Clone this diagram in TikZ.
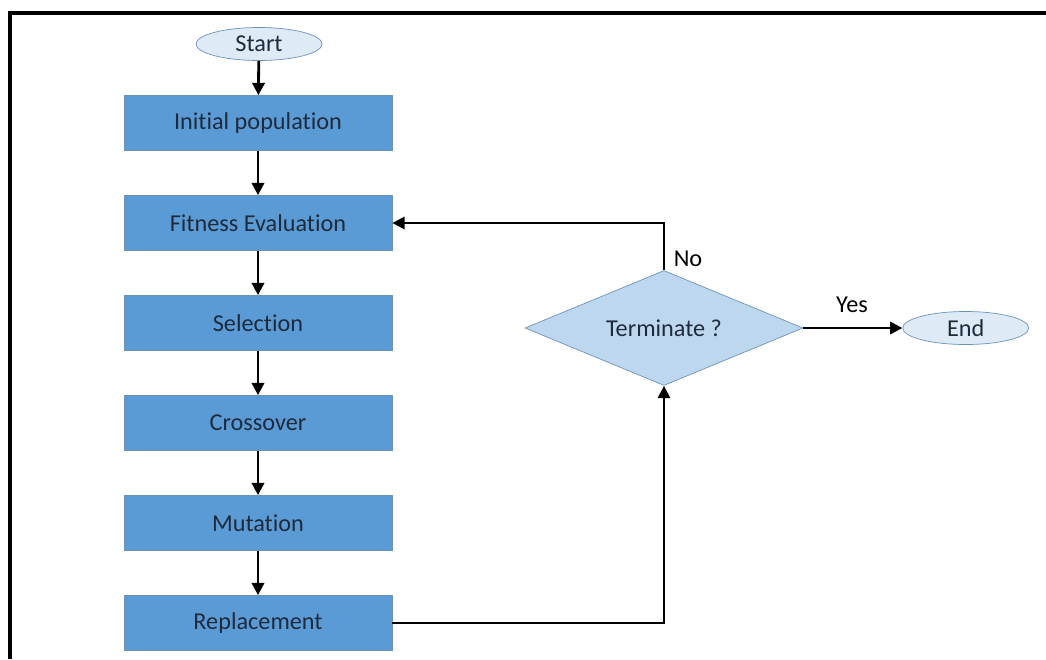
\documentclass[tikz,border=0pt]{standalone}
\usepackage{fontspec}
\setmainfont{Carlito}[Ligatures=NoCommon]
\usetikzlibrary{arrows.meta, positioning, shapes.geometric}
\definecolor{boxblue}{HTML}{5B9BD5}
\definecolor{edgeblue}{HTML}{6E93B8}
\definecolor{paleblue}{HTML}{DEEBF7}
\definecolor{midblue}{HTML}{BDD7EE}
\definecolor{inkdark}{HTML}{1E2B3C}
\begin{document}
\begin{tikzpicture}[
  node distance=2.0cm,
  font=\fontsize{13.8}{16}\selectfont,
  block/.style={draw=edgeblue, fill=boxblue, text=inkdark, rectangle, minimum width=5.36cm, minimum height=1.1cm},
  term/.style={draw=edgeblue, fill=paleblue, text=inkdark, ellipse, inner sep=0pt, minimum width=2.52cm, minimum height=0.66cm},
  decision/.style={draw=edgeblue, fill=midblue, text=inkdark, diamond, aspect=2.4, inner sep=0pt, minimum width=5.56cm, minimum height=2.3cm},
  arr/.style={-{Triangle[length=7pt, width=7pt]}, line width=1.6pt},
  loop/.style={-{Triangle[length=7pt, width=7pt]}, line width=1.3pt}
]
\useasboundingbox (0,0) rectangle (20.92,-13.18);
% frame
\draw[line width=1.8pt] (0.2,-13.18) -- (0.2,-0.26) -- (20.92,-0.26);

\node[term] (start) at (5.18,-0.88) {Start};
\node[block] (init) at (5.16,-2.46) {Initial population};
\node[block] (fitness) [below of=init] {Fitness Evaluation};
\node[block] (select) [below of=fitness] {Selection};
\node[block] (cross) [below of=select] {Crossover};
\node[block] (mutate) [below of=cross] {Mutation};
\node[block] (replace) [below of=mutate] {Replacement};
\node[decision] (stopq) at (13.28,-6.56) {Terminate ?};
\node[term] (finish) [right=1.98cm of stopq] {End};

\draw[arr] (start) -- (init);
\draw[arr] (init) -- (fitness);
\draw[arr] (fitness) -- (select);
\draw[arr] (select) -- (cross);
\draw[arr] (cross) -- (mutate);
\draw[arr] (mutate) -- (replace);
\draw[loop] (replace.east) -| (stopq.south);
\draw[loop] (stopq.north) |- (fitness.east);
\draw[arr] (stopq.east) -- (finish.west);

\node (no) at (13.76,-5.18) {No};
\node (yes) at (17.04,-6.10) {Yes};
\end{tikzpicture}
\end{document}
